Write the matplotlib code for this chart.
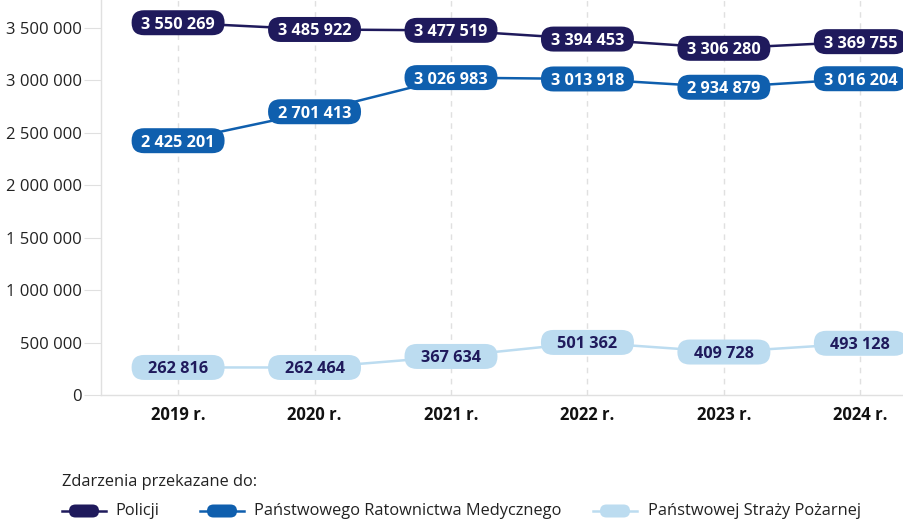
import matplotlib
matplotlib.use("Agg")
import matplotlib.pyplot as plt
from matplotlib.patches import FancyBboxPatch
from matplotlib.lines import Line2D
import matplotlib.transforms as mtransforms

plt.rcParams['font.family'] = ['Open Sans', 'DejaVu Sans']

years = ["2019 r.", "2020 r.", "2021 r.", "2022 r.", "2023 r.", "2024 r."]
policja = [3550269, 3485922, 3477519, 3394453, 3306280, 3369755]
prm = [2425201, 2701413, 3026983, 3013918, 2934879, 3016204]
psp = [262816, 262464, 367634, 501362, 409728, 493128]
series_names = ["Policji", "Państwowego Ratownictwa Medycznego", "Państwowej Straży Pożarnej"]
yticks = [0, 500000, 1000000, 1500000, 2000000, 2500000, 3000000, 3500000]
legend_title = "Zdarzenia przekazane do:"

c_pol = "#1f1a5c"
c_prm = "#0f5fae"
c_psp = "#bcdcf0"
grid_c = "#e0e0e0"

W, H = 904, 522
fig = plt.figure(figsize=(W / 100, H / 100), dpi=100)
y0px = 395
ax = fig.add_axes([101 / W, (H - y0px) / H, (W - 101) / W, y0px / H])

n = len(years)
xs = list(range(n))
ax.set_xlim(-0.565, 5.32)
px_per_500k = (y0px - 28) / 7
ax.set_ylim(0, 3500000 + 28 / px_per_500k * 500000)

for sp in ["top", "right"]:
    ax.spines[sp].set_visible(False)
ax.spines["left"].set_color(grid_c)
ax.spines["bottom"].set_color(grid_c)
ax.spines["left"].set_linewidth(1)
ax.spines["bottom"].set_linewidth(1)

ax.set_yticks(yticks)
ax.set_yticklabels([f"{v:,}".replace(",", " ") for v in yticks], fontsize=12, color="#222222")
ax.tick_params(axis="y", length=12, color=grid_c, pad=2)
ax.set_xticks(xs)
ax.set_xticklabels(years, fontsize=12, fontweight="bold", color="#111111")
ax.tick_params(axis="x", length=0, pad=8)

for x in xs:
    ax.axvline(x, color=grid_c, lw=1, ls=(0, (4, 4)), zorder=0)

box_w, box_h = 0.93, 0.25  # inches (dpi 100)
series = [(policja, c_pol, "white"), (prm, c_prm, "white"), (psp, c_psp, c_pol)]
for vals, col, tcol in series:
    ax.plot(xs, vals, color=col, lw=1.8, zorder=2, solid_capstyle="round")
    for x, v in zip(xs, vals):
        tr = fig.dpi_scale_trans + mtransforms.ScaledTranslation(x, v, ax.transData)
        p = FancyBboxPatch((-box_w / 2, -box_h / 2), box_w, box_h,
                           boxstyle=f"round,pad=0,rounding_size={box_h/2}",
                           transform=tr, facecolor=col, edgecolor="none", zorder=3,
                           clip_on=False)
        ax.add_patch(p)
        ax.text(x, v, f"{v:,}".replace(",", " "), ha="center", va="center_baseline",
                fontsize=11.7, fontweight="bold", color=tcol, zorder=4, clip_on=False)

# Legend (manual)
fig.text(62 / W, 1 - 482 / H, legend_title, fontsize=11.8, color="#222222", va="center", ha="left")
leg_y = 1 - 511 / H
items = [(62, 106, 115, c_pol), (200, 244, 254, c_prm), (593, 637, 648, c_psp)]
for (x0, x1, tx, col), name in zip(items, series_names):
    fig.add_artist(Line2D([x0 / W, x1 / W], [leg_y, leg_y], color=col, lw=1.8,
                          transform=fig.transFigure))
    pw, ph = 30, 13
    cx = (x0 + x1) / 2
    fig.add_artist(FancyBboxPatch(((cx - pw / 2) / 100, (H - 511 - ph / 2) / 100), pw / 100, ph / 100,
                                  boxstyle=f"round,pad=0,rounding_size={ph/200}",
                                  transform=fig.dpi_scale_trans, facecolor=col, edgecolor="none"))
    fig.text(tx / W, leg_y, name, fontsize=11.8, color="#222222", va="center", ha="left")

fig.savefig("out.png", dpi=100)
